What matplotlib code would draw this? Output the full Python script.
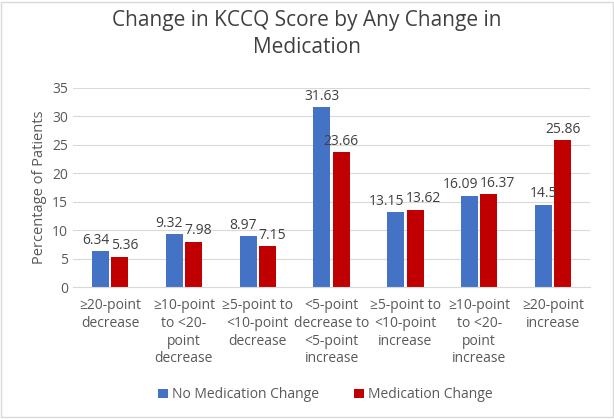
import numpy as np
import matplotlib.pyplot as plt
from matplotlib.patches import Rectangle

plt.rcParams['font.family'] = ['Open Sans', 'DejaVu Sans']

categories = ["≥20-point\ndecrease", "≥10-point\nto <20-\npoint\ndecrease",
              "≥5-point to\n<10-point\ndecrease", "<5-point\ndecrease to\n<5-point\nincrease",
              "≥5-point to\n<10-point\nincrease", "≥10-point\nto <20-\npoint\nincrease",
              "≥20-point\nincrease"]
no_change = [6.34, 9.32, 8.97, 31.63, 13.15, 16.09, 14.5]
med_change = [5.36, 7.98, 7.15, 23.66, 13.62, 16.37, 25.86]
no_labels = ["6.34", "9.32", "8.97", "31.63", "13.15", "16.09", "14.5"]
med_labels = ["5.36", "7.98", "7.15", "23.66", "13.62", "16.37", "25.86"]

blue = "#4472C4"
red = "#C00000"
text_col = "#595959"

fig = plt.figure(figsize=(6.14, 4.19), dpi=100)
fig.patches.append(Rectangle((0.002, 0.004), 0.996, 0.992, transform=fig.transFigure,
                             fill=False, edgecolor="#D9D9D9", linewidth=1))
ax = fig.add_axes([0.119, 0.315, 0.842, 0.475])

x = np.arange(len(categories))
w = 0.23
gap = 0.015
b1 = ax.bar(x - w / 2 - gap, no_change, w, color=blue, label="No Medication Change")
b2 = ax.bar(x + w / 2 + gap, med_change, w, color=red, label="Medication Change")

# labels: centred on bars, pushed apart when the two bars are about the same height
for i, (r1, r2) in enumerate(zip(b1, b2)):
    h1, h2 = r1.get_height(), r2.get_height()
    kw = dict(va="bottom", fontsize=10, color="#404040")
    if abs(h1 - h2) < 3:
        ax.text(x[i] - 0.01, h1 + 0.6, no_labels[i], ha="right", **kw)
        ax.text(x[i] + 0.01, h2 + 0.6, med_labels[i], ha="left", **kw)
    else:
        ax.text(r1.get_x() + w / 2, h1 + 0.6, no_labels[i], ha="center", **kw)
        ax.text(r2.get_x() + w / 2, h2 + 0.6, med_labels[i], ha="center", **kw)

ax.set_ylim(0, 35)
ax.set_xlim(-0.5, len(categories) - 0.5)
ax.set_yticks(range(0, 36, 5))
ax.yaxis.grid(True, color="#D9D9D9", linewidth=0.8)
ax.set_axisbelow(True)
for s in ["top", "right", "left"]:
    ax.spines[s].set_visible(False)
ax.spines["bottom"].set_color("#D9D9D9")
ax.tick_params(axis="both", length=0, colors=text_col, labelsize=10)
ax.tick_params(axis="x", pad=8)
ax.set_xticks(x)
ax.set_xticklabels(categories, linespacing=1.25)
ax.set_ylabel("Percentage of Patients", fontsize=10.5, color=text_col)

fig.suptitle("Change in KCCQ Score by Any Change in\nMedication", fontsize=15,
             color="#404040", y=0.975, linespacing=1.35)

fig.legend(loc="lower center", ncol=2, frameon=False, fontsize=10,
           bbox_to_anchor=(0.53, 0.01), handlelength=0.7, handleheight=0.7,
           columnspacing=2.5, labelcolor=text_col, handletextpad=0.3)

fig.savefig("out.png", dpi=100)
